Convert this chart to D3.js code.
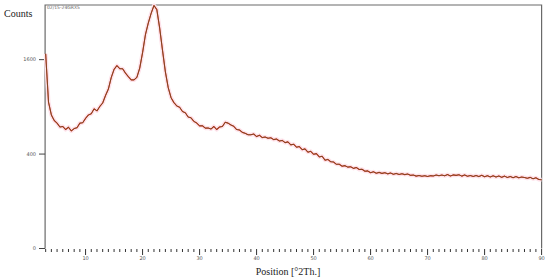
<!DOCTYPE html>
<html>
<head>
<meta charset="utf-8">
<script src="https://cdn.jsdelivr.net/npm/d3@7"></script>
<style>
  body { margin: 0; background: #fff; }
  svg { display: block; }
</style>
</head>
<body>
<div id="chart"></div>
<script>
// scan: 2theta from 3 to 90 in 0.5 deg steps, counts
const positions = d3.range(3, 90.001, 0.5);
const counts = [
  1700, 960, 800, 735, 705, 662, 668, 635, 660, 620,
  645, 655, 705, 710, 760, 800, 815, 875, 850, 905,
  950, 1050, 1140, 1310, 1440, 1500, 1450, 1450, 1380, 1325,
  1275, 1275, 1315, 1460, 1720, 2050, 2280, 2480, 2650, 2560,
  2180, 1760, 1400, 1160, 1020, 955, 912, 895, 842, 826,
  775, 766, 725, 706, 675, 676, 650, 652, 640, 668,
  635, 662, 668, 715, 705, 685, 670, 635, 630, 605,
  595, 580, 580, 588, 562, 575, 552, 558, 545, 550,
  532, 538, 518, 524, 503, 510, 482, 488, 460, 466,
  438, 445, 416, 424, 398, 404, 376, 382, 350, 356,
  338, 336, 318, 319, 304, 308, 297, 300, 288, 294,
  280, 282, 268, 270, 258, 264, 254, 260, 253, 258,
  250, 256, 247, 253, 246, 251, 245, 249, 240, 242,
  235, 239, 234, 238, 233, 238, 236, 242, 238, 242,
  237, 245, 236, 243, 240, 244, 235, 243, 234, 239,
  233, 239, 232, 240, 231, 238, 230, 237, 229, 236,
  227, 235, 226, 233, 225, 232, 224, 229, 226, 221,
  227, 218, 224, 214, 212
];
const yTicks = [0, 400, 1600];
const xMajor = [10, 20, 30, 40, 50, 60, 70, 80, 90];
const xMinor = d3.range(3, 91);

const data = positions.map((p, i) => ({ p, c: counts[i] }));

const W = 550, H = 280;
const svg = d3.select("#chart").append("svg")
    .attr("width", W)
    .attr("height", H);

const x = d3.scaleLinear().domain([2.9, 90]).range([45.1, 541.6]);
const y = d3.scaleSqrt().domain([0, 2660]).range([248.5, 5]);

const axisColor = "#6a6a6a";

// frame: left, top, right
svg.append("path")
    .attr("d", `M${x(2.9)},${y(0)}V${y(2660)}H${x(90)}V${y(0)}`)
    .attr("fill", "none")
    .attr("stroke", axisColor)
    .attr("stroke-width", 1.2);

// y ticks
const yg = svg.append("g");
yg.selectAll("line")
    .data(yTicks)
    .join("line")
    .attr("x1", 39).attr("x2", x(2.9))
    .attr("y1", d => y(d)).attr("y2", d => y(d))
    .attr("stroke", "#444")
    .attr("stroke-width", 1);
yg.selectAll("text")
    .data(yTicks)
    .join("text")
    .attr("x", 36)
    .attr("y", d => y(d))
    .attr("dy", "0.35em")
    .attr("text-anchor", "end")
    .style("font", "5px 'DejaVu Sans'")
    .attr("fill", "#555")
    .text(d => d);

// x ticks (no baseline in the original)
const xg = svg.append("g");
xg.selectAll("line.minor")
    .data(xMinor.filter(d => d % 10 !== 0))
    .join("line")
    .attr("class", "minor")
    .attr("x1", d => x(d)).attr("x2", d => x(d))
    .attr("y1", 249).attr("y2", 252)
    .attr("stroke", "#333")
    .attr("stroke-width", 1);
xg.selectAll("line.major")
    .data(xMajor)
    .join("line")
    .attr("class", "major")
    .attr("x1", d => x(d)).attr("x2", d => x(d))
    .attr("y1", 249).attr("y2", 255)
    .attr("stroke", "#333")
    .attr("stroke-width", 1);
xg.selectAll("text")
    .data(xMajor)
    .join("text")
    .attr("x", d => x(d))
    .attr("y", 260)
    .attr("text-anchor", "middle")
    .style("font", "5px 'DejaVu Sans'")
    .attr("fill", "#555")
    .text(d => d);

// pattern line: faint pink halo, red trace, dark brown trace
const line = d3.line().x(d => x(d.p)).y(d => y(d.c)).curve(d3.curveLinear);
svg.append("path").datum(data)
    .attr("d", line).attr("fill", "none")
    .attr("stroke", "#fde2ea").attr("stroke-width", 4)
    .attr("stroke-linejoin", "round");
svg.append("path").datum(data)
    .attr("d", line).attr("fill", "none")
    .attr("stroke", "#d8301c").attr("stroke-width", 1.1)
    .attr("stroke-linejoin", "round");
svg.append("path").datum(data)
    .attr("d", line).attr("fill", "none")
    .attr("stroke", "#6a4a22").attr("stroke-width", 0.8)
    .attr("stroke-linejoin", "round");

// labels
svg.append("text")
    .attr("x", 4).attr("y", 17)
    .style("font", "10px 'Liberation Serif'")
    .attr("fill", "#222")
    .text("Counts");

svg.append("text")
    .attr("x", 47).attr("y", 9)
    .style("font", "4.5px 'DejaVu Sans'")
    .attr("fill", "#666")
    .text("02/15-24GRX5");

svg.append("text")
    .attr("x", 288).attr("y", 275)
    .attr("text-anchor", "middle")
    .style("font", "10px 'Liberation Serif'")
    .attr("fill", "#222")
    .text("Position [°2Th.]");
</script>
</body>
</html>
